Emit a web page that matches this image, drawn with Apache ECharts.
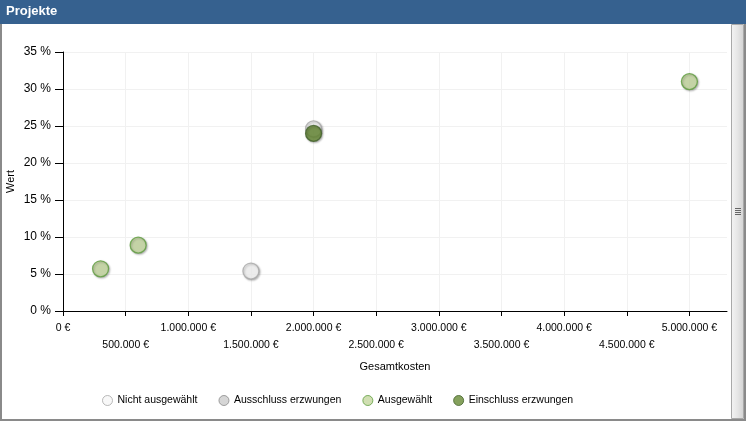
<!DOCTYPE html>
<html>
<head>
<meta charset="utf-8">
<style>
html,body{margin:0;padding:0;background:#fff;}
#c{width:746px;height:421px;}
</style>
<script src="https://cdn.jsdelivr.net/npm/echarts@6/dist/echarts.min.js"></script>
</head>
<body>
<div id="c"></div>
<script>
const seriesNames = ['Nicht ausgewählt', 'Ausschluss erzwungen', 'Ausgewählt', 'Einschluss erzwungen'];
const xTicks = [0, 500000, 1000000, 1500000, 2000000, 2500000, 3000000, 3500000, 4000000, 4500000, 5000000];
const yTicks = [0, 5, 10, 15, 20, 25, 30, 35];
const nichtAusgewaehlt = [[1500000, 5.4], [2000000, 24.6]];
const ausschlussErzwungen = [];
const ausgewaehlt = [[300000, 5.7], [600000, 8.9], [5000000, 31.0]];
const einschlussErzwungen = [[2000000, 24.0]];

const FONT = '"Liberation Sans", Arial, sans-serif';
function fmtEuro(v) {
  const s = String(Math.round(v)).replace(/\B(?=(\d{3})+(?!\d))/g, '.');
  return s + ' €';
}
const styles = [
  {fill: '#f6f6f6', border: '#a8a8a8'},
  {fill: '#cccccc', border: '#8a8a8a'},
  {fill: '#c4d79f', border: '#5c9c3c'},
  {fill: '#668a35', border: '#42622a'}
];
const datas = [nichtAusgewaehlt, ausschlussErzwungen, ausgewaehlt, einschlussErzwungen];

const chart = echarts.init(document.getElementById('c'), null, {renderer: 'canvas'});
chart.setOption({
  animation: false,
  backgroundColor: '#ffffff',
  textStyle: {fontFamily: FONT},
  grid: {left: 63, right: 19, top: 52, bottom: 110, containLabel: false, outerBoundsMode: 'none'},
  legend: {
    left: 97, top: 390,
    itemWidth: 10, itemHeight: 10, itemGap: 21,
    icon: 'circle',
    textStyle: {fontFamily: FONT, fontSize: 10.5, color: '#000'},
    data: seriesNames.map((n, i) => ({name: n, itemStyle: {color: styles[i].fill, borderColor: styles[i].border, borderWidth: 1}}))
  },
  xAxis: {
    type: 'value', min: 0, max: 5300000, interval: 500000,
    name: 'Gesamtkosten', nameLocation: 'middle', nameGap: 50, nameMoveOverlap: false,
    nameTextStyle: {fontFamily: FONT, fontSize: 11, color: '#000'},
    axisLine: {show: true, onZero: false, lineStyle: {color: '#000', width: 1}},
    axisTick: {show: true, length: 5, lineStyle: {color: '#000'}, customValues: xTicks},
    axisLabel: {
      customValues: xTicks,
      fontFamily: FONT, fontSize: 10.5, color: '#000', margin: 9, lineHeight: 17,
      formatter: function (v) {
        const lbl = fmtEuro(v);
        return (Math.round(v / 500000) % 2 === 1) ? '\n' + lbl : lbl;
      }
    },
    splitLine: {show: true, lineStyle: {color: '#f1f1f1', width: 1}}
  },
  yAxis: {
    type: 'value', min: 0, max: 35, interval: 5,
    name: 'Wert', nameLocation: 'middle', nameGap: 47, nameRotate: 90, nameMoveOverlap: false,
    nameTextStyle: {fontFamily: FONT, fontSize: 11, color: '#000'},
    axisLine: {show: true, lineStyle: {color: '#000', width: 1}},
    axisTick: {show: true, length: 8, lineStyle: {color: '#000'}, customValues: yTicks},
    axisLabel: {
      customValues: yTicks,
      fontFamily: FONT, fontSize: 12, color: '#000', margin: 12,
      formatter: function (v) { return v + ' %'; }
    },
    splitLine: {show: true, lineStyle: {color: '#f1f1f1', width: 1}}
  },
  series: seriesNames.map((n, i) => ({
    name: n, type: 'scatter', data: datas[i], symbol: 'circle', symbolSize: 16,
    itemStyle: {
      color: styles[i].fill, borderColor: styles[i].border, borderWidth: 1.3,
      shadowBlur: 2, shadowColor: 'rgba(0,0,0,0.3)', shadowOffsetX: 1, shadowOffsetY: 1
    },
    emphasis: {disabled: true}
  })),
  graphic: [
    {type: 'rect', shape: {x: 0, y: 0, width: 746, height: 24}, style: {fill: '#36618f'}, z: 10},
    {type: 'text', x: 6, y: 5, style: {text: 'Projekte', fill: '#ffffff', font: 'bold 13px ' + FONT}, z: 11},
    {type: 'rect', shape: {x: 0, y: 24, width: 2, height: 397}, style: {fill: '#8a8a8a'}, z: 10},
    {type: 'rect', shape: {x: 0, y: 419, width: 746, height: 2}, style: {fill: '#8a8a8a'}, z: 10},
    {type: 'rect', shape: {x: 744, y: 24, width: 2, height: 397}, style: {fill: '#8a8a8a'}, z: 10},
    {type: 'rect', shape: {x: 731.5, y: 24.5, width: 12, height: 394},
      style: {fill: new echarts.graphic.LinearGradient(0, 0, 1, 0, [
        {offset: 0, color: '#f4f4f4'}, {offset: 0.5, color: '#e6e6e6'}, {offset: 1, color: '#d2d2d2'}]),
        stroke: '#a9a9a9', lineWidth: 1}, z: 10},
    {type: 'line', shape: {x1: 735, y1: 208.5, x2: 741, y2: 208.5}, style: {stroke: '#666', lineWidth: 1}, z: 11},
    {type: 'line', shape: {x1: 735, y1: 210.5, x2: 741, y2: 210.5}, style: {stroke: '#666', lineWidth: 1}, z: 11},
    {type: 'line', shape: {x1: 735, y1: 212.5, x2: 741, y2: 212.5}, style: {stroke: '#666', lineWidth: 1}, z: 11},
    {type: 'line', shape: {x1: 735, y1: 214.5, x2: 741, y2: 214.5}, style: {stroke: '#666', lineWidth: 1}, z: 11}
  ]
});
</script>
</body>
</html>
